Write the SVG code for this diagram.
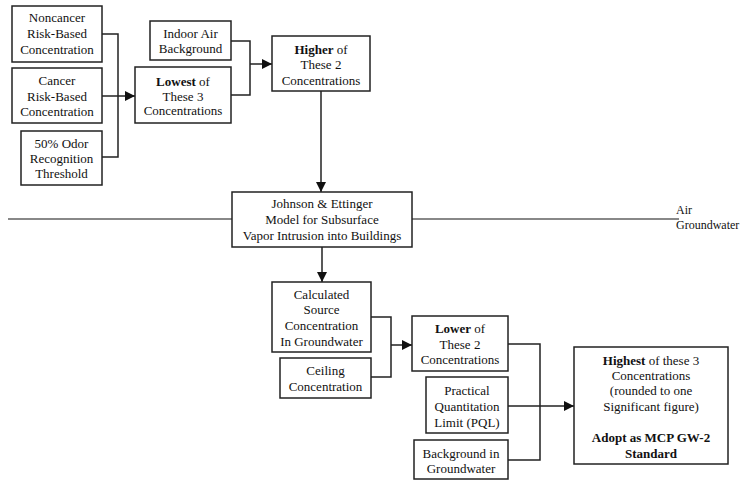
<svg xmlns="http://www.w3.org/2000/svg" width="748" height="480" viewBox="0 0 748 480">
<style>
.box{fill:#fff;stroke:#222;stroke-width:1.5}
text{font-family:"Liberation Serif","Times New Roman",serif;font-size:13px;fill:#111;text-anchor:middle}
.b{font-weight:bold}
.c{fill:none;stroke:#222;stroke-width:1.5}
.ground{fill:none;stroke:#888;stroke-width:2}
.lab{text-anchor:start;font-size:12px}
</style>
<defs>
<marker id="arr" viewBox="0 0 10 10" refX="10" refY="5" markerWidth="10" markerHeight="10" markerUnits="userSpaceOnUse" orient="auto">
<path d="M0,0 L10,5 L0,10 z" fill="#111"/>
</marker>
</defs>
<rect width="748" height="480" fill="#fff"/>
<g id="ground-line">
<path class="ground" d="M8,219 H232 M412,219 H679"/>
<text class="lab" x="676" y="214">Air</text>
<text class="lab" x="676" y="229">Groundwater</text>
</g>
<g id="connectors">
<path class="c" d="M102,34 H118 V157 H102"/>
<path class="c" d="M102,96 H135" marker-end="url(#arr)"/>
<path class="c" d="M231,41 H250 V95 H231"/>
<path class="c" d="M250,64 H272" marker-end="url(#arr)"/>
<path class="c" d="M321,91 V192" marker-end="url(#arr)"/>
<path class="c" d="M322,247 V282" marker-end="url(#arr)"/>
<path class="c" d="M371,317 H391 V377 H371"/>
<path class="c" d="M391,345 H412" marker-end="url(#arr)"/>
<path class="c" d="M508,344 H540 V460 H508"/>
<path class="c" d="M508,406 H574" marker-end="url(#arr)"/>
</g>
<g id="noncancer">
<rect class="box" x="12" y="6" width="90" height="56"/>
<text x="57" y="22">Noncancer</text>
<text x="57" y="38">Risk-Based</text>
<text x="57" y="54">Concentration</text>
</g>
<g id="cancer">
<rect class="box" x="12" y="68" width="90" height="55"/>
<text x="57" y="84.5">Cancer</text>
<text x="57" y="100.5">Risk-Based</text>
<text x="57" y="115.5">Concentration</text>
</g>
<g id="odor">
<rect class="box" x="21" y="131" width="81" height="54"/>
<text x="61.5" y="147.5">50% Odor</text>
<text x="61.5" y="162.5">Recognition</text>
<text x="61.5" y="177.5">Threshold</text>
</g>
<g id="indoor">
<rect class="box" x="150" y="21" width="81" height="39"/>
<text x="190.5" y="37.5">Indoor Air</text>
<text x="190.5" y="52.5">Background</text>
</g>
<g id="lowest">
<rect class="box" x="135" y="67" width="96" height="56"/>
<text x="183" y="85.5"><tspan class="b">Lowest</tspan> of</text>
<text x="183" y="100.5">These 3</text>
<text x="183" y="114.5">Concentrations</text>
</g>
<g id="higher">
<rect class="box" x="272" y="36" width="98" height="55"/>
<text x="321" y="53.5"><tspan class="b">Higher</tspan> of</text>
<text x="321" y="68.5">These 2</text>
<text x="321" y="84.5">Concentrations</text>
</g>
<g id="johnson">
<rect class="box" x="232" y="192" width="180" height="55"/>
<text x="322" y="207.5">Johnson &amp; Ettinger</text>
<text x="322" y="223.5">Model for Subsurface</text>
<text x="322" y="239.5">Vapor Intrusion into Buildings</text>
</g>
<g id="calculated">
<rect class="box" x="272" y="282" width="99" height="70"/>
<text x="321.5" y="298.5">Calculated</text>
<text x="321.5" y="313.5">Source</text>
<text x="321.5" y="329.5">Concentration</text>
<text x="321.5" y="345.5">In Groundwater</text>
</g>
<g id="ceiling">
<rect class="box" x="280" y="358" width="91" height="40"/>
<text x="325.5" y="374.5">Ceiling</text>
<text x="325.5" y="390.5">Concentration</text>
</g>
<g id="lower">
<rect class="box" x="412" y="316" width="96" height="55"/>
<text x="460" y="332.5"><tspan class="b">Lower</tspan> of</text>
<text x="460" y="348.5">These 2</text>
<text x="460" y="363.5">Concentrations</text>
</g>
<g id="pql">
<rect class="box" x="426" y="377" width="82" height="56"/>
<text x="467" y="394.5">Practical</text>
<text x="467" y="410.5">Quantitation</text>
<text x="467" y="426.5">Limit (PQL)</text>
</g>
<g id="background">
<rect class="box" x="414" y="440" width="94" height="39"/>
<text x="461" y="457.5">Background in</text>
<text x="461" y="472.5">Groundwater</text>
</g>
<g id="highest">
<rect class="box" x="574" y="347" width="154" height="117"/>
<text x="651" y="364.5"><tspan class="b">Highest</tspan> of these 3</text>
<text x="651" y="379.5">Concentrations</text>
<text x="651" y="394.5">(rounded to one</text>
<text x="651" y="410.5">Significant figure)</text>
<text x="651" y="441.5" class="b">Adopt as MCP GW-2</text>
<text x="651" y="457.5" class="b">Standard</text>
</g>
</svg>
